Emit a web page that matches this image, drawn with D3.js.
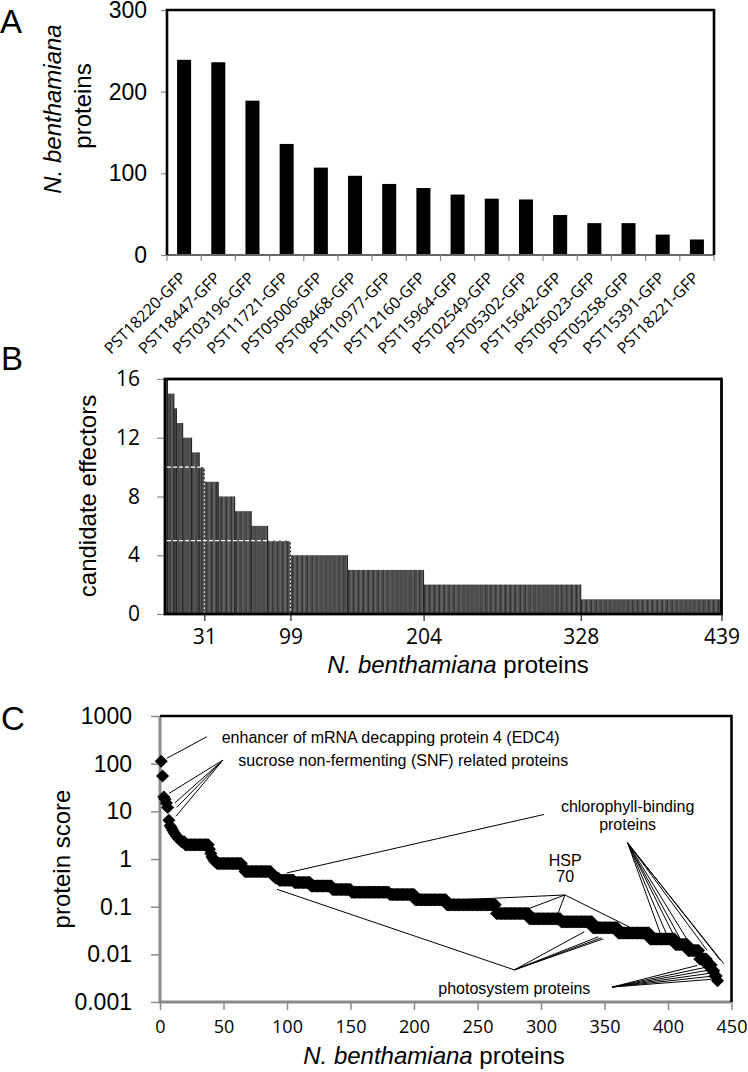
<!DOCTYPE html>
<html><head><meta charset="utf-8">
<script src="https://cdn.jsdelivr.net/npm/d3@7"></script>
<style>
body{margin:0;background:#fff}
svg{display:block}
text{font-family:"Liberation Sans",Arial,sans-serif;fill:#000}
</style>
</head><body>
<svg id="chart" width="748" height="1072"></svg>
<script>
// ---------- Panel A data ----------
const categoriesA = ["PST18220-GFP","PST18447-GFP","PST03196-GFP","PST11721-GFP","PST05006-GFP","PST08468-GFP","PST10977-GFP","PST12160-GFP","PST15964-GFP","PST02549-GFP","PST05302-GFP","PST15642-GFP","PST05023-GFP","PST05258-GFP","PST15391-GFP","PST18221-GFP"];
const valuesA = [239,236,189,136,107,97,87,82,74,69,68,49,39,39,25,19];
const ticksA = [0,100,200,300];

// ---------- Panel B data (effector count per protein, run-length) ----------
const effectorLevelsB = [16,15,14,13,12,11,10,9,8,7,6,5,4,3,2,1];
const proteinCountsB  = [2,5,2,5,7,6,4,11,13,13,13,18,45,60,124,111];
const tickRanksB = [31,99,204,328,439];
const ticksYB = [0,4,8,12,16];
const guideLevelsB = [10,5];
const guideRanksB = [31,99];

// ---------- Panel C data (protein score, run-length) ----------
const scoreValuesC = [113,55,20,18,15,12,6.5,5,4.5,4,3.6,3.3,3,2.8,2.6,2.5,2.3,2.0,1.6,1.3,1.1,1.0,0.9,0.8,0.7,0.65,0.55,0.5,0.45,0.4,0.36,0.32,0.27,0.23,0.2,0.18,0.14,0.11,0.072,0.056,0.048,0.036,0.028,0.021,0.016,0.012,0.008,0.006,0.0045,0.0035,0.0028];
const scoreCountsC = [1,1,1,1,1,1,1,1,1,1,1,1,1,1,1,1,3,19,1,1,1,1,2,20,1,1,21,1,2,3,12,13,17,15,30,20,25,39,26,25,25,20,25,20,10,9,6,4,2,2,1];
const ticksYC = [0.001,0.01,0.1,1,10,100,1000];
const ticksXC = [0,50,100,150,200,250,300,350,400,450];

// annotations in data units [rank, score]
const edcLine = [[36.8,367],[5.3,129]];
const snfOrigin = [49.6,119];
const snfTargets = [[7.1,23.8],[11.8,15.1],[13.2,12.1],[12.6,7.9]];
const chloroLong = [[302.4,8.6],[99.8,0.51]];
const chloroOrigin = [368.2,2.18];
const chloroTargets = [[394,0.0272],[399.8,0.0231],[405.8,0.0214],[410.3,0.0197],[416.3,0.0181],[430.8,0.0121],[441.3,0.00748],[443.9,0.00637]];
const hspOrigin = [318.8,0.176];
const hspTargets = [[232.7,0.138],[288.6,0.0873],[312.6,0.0628],[370.1,0.0369]];
const photoOrigin1 = [279,0.00472];
const photoTargets1 = [[92,0.232],[334.1,0.0297],[345.1,0.0233],[347.5,0.0222],[349.1,0.0212]];
const photoOrigin2 = [356.2,0.00206];
const photoTargets2 = [[423.2,0.00587],[429.5,0.00533],[431,0.00461],[432.6,0.00399],[433.4,0.00345],[434.2,0.00299]];
const annTexts = ["enhancer of mRNA decapping protein 4 (EDC4)","sucrose non-fermenting (SNF) related proteins","chlorophyll-binding","proteins","HSP","70","photosystem proteins"];
const annPos = [[48.6,272],[61.7,89],[368.2,9.8],[368.2,4.03],[319.1,0.72],[319.1,0.33],[279,0.0015]];
const annAnchor = ["start","start","middle","middle","middle","middle","middle"];
const annSize = [16,16,16,16,16,16,16];

const svg = d3.select("#chart");
svg.append("rect").attr("width",748).attr("height",1072).attr("fill","#fff");
const GRAY = "#8a8a8a";

function italicTitle(g, x, y, size){
  const t = g.append("text").attr("font-size",size).attr("text-anchor","middle").attr("x",x).attr("y",y);
  t.append("tspan").attr("font-style","italic").text("N. benthamiana");
  t.append("tspan").text(" proteins");
  return t;
}

// =================== PANEL A ===================
{
const xA = d3.scaleBand().domain(categoriesA).range([167,714]).padding(0);
const yA = d3.scaleLinear().domain([0,300]).range([255,10]);
const g = svg.append("g");
const bw = xA.bandwidth();
g.selectAll("rect.barA").data(valuesA).join("rect")
  .attr("x",(d,i)=>xA(categoriesA[i]) + bw*0.5 - bw*0.205)
  .attr("width",bw*0.41)
  .attr("y",d=>yA(d))
  .attr("height",d=>yA(0)-yA(d))
  .attr("fill","#000");
g.append("line").attr("x1",167).attr("x2",714).attr("y1",yA(0)).attr("y2",yA(0)).attr("stroke","#666").attr("stroke-width",2);
const bounds = categoriesA.map(c=>xA(c)).concat([xA.range()[1]]);
g.selectAll("line.tA").data(bounds).join("line")
  .attr("x1",d=>d).attr("x2",d=>d).attr("y1",yA(0)).attr("y2",yA(0)+6)
  .attr("stroke",GRAY).attr("stroke-width",1.2);
const ay = d3.axisLeft(yA).tickValues(ticksA).tickSize(6).tickPadding(14);
const gy = g.append("g").attr("transform","translate(167,0)").call(ay);
gy.select(".domain").remove();
gy.selectAll(".tick line").attr("stroke",GRAY).attr("stroke-width",1.2);
gy.selectAll(".tick text").attr("font-size",23).attr("font-family","Liberation Sans, Arial, sans-serif").attr("fill","#000");
g.append("path").attr("d",`M167,${yA(0)}V${yA(300)}H714V${yA(0)}`).attr("fill","none").attr("stroke","#000").attr("stroke-width",2.6);
g.selectAll("text.labA").data(categoriesA).join("text")
  .attr("transform",c=>`translate(${xA(c)+bw/2+3},279) rotate(-45)`)
  .attr("text-anchor","end")
  .attr("font-size",16)
  .style("font-family","'Open Sans', sans-serif")
  .text(c=>c);
g.append("text").attr("transform","translate(53,109) rotate(-90)").attr("text-anchor","middle").attr("dy","0.35em").attr("font-size",24).attr("font-style","italic").text("N. benthamiana");
g.append("text").attr("transform","translate(83,106) rotate(-90)").attr("text-anchor","middle").attr("dy","0.35em").attr("font-size",24).text("proteins");
g.append("text").attr("x",0).attr("y",33).attr("font-size",33).text("A");
}

// =================== PANEL B ===================
{
const xB = d3.scaleLinear().domain([0,439]).range([165,721.5]);
const yB = d3.scaleLinear().domain([0,16]).range([614,379]);
const proteinsB = [];
effectorLevelsB.forEach((lev,k)=>{ for(let j=0;j<proteinCountsB[k];j++) proteinsB.push(lev); });
const g = svg.append("g");
g.selectAll("rect.barB").data(proteinsB).join("rect")
  .attr("x",(d,i)=>xB(i))
  .attr("width",(d,i)=>xB(i+1)-xB(i)+0.25)
  .attr("y",d=>yB(d))
  .attr("height",d=>yB(0)-yB(d))
  .attr("fill",(d,i)=> (i%4===0)?"#333":"#4b4b4b");
let cum=0;
const stepEdges=[];
proteinCountsB.forEach((c,k)=>{cum+=c; if(k<proteinCountsB.length-1) stepEdges.push([cum, effectorLevelsB[k]]);});
g.selectAll("line.edge").data(stepEdges).join("line")
  .attr("x1",d=>xB(d[0])).attr("x2",d=>xB(d[0]))
  .attr("y1",d=>yB(d[1])).attr("y2",yB(0))
  .attr("stroke","#111").attr("stroke-width",0.8);
guideLevelsB.forEach((lev,k)=>{
  g.append("line").attr("x1",xB(0)+2).attr("x2",xB(guideRanksB[k])).attr("y1",yB(lev)).attr("y2",yB(lev))
    .attr("stroke","#fff").attr("stroke-width",1.3).attr("stroke-dasharray","4,2");
  g.append("line").attr("x1",xB(guideRanksB[k])).attr("x2",xB(guideRanksB[k])).attr("y1",yB(lev)).attr("y2",yB(0))
    .attr("stroke","#fff").attr("stroke-width",1.1).attr("stroke-dasharray","2,2");
});
const ay = d3.axisLeft(yB).tickValues(ticksYB).tickSize(8).tickPadding(17);
const gy = g.append("g").attr("transform","translate(165,0)").call(ay);
gy.select(".domain").remove();
gy.selectAll(".tick line").attr("stroke",GRAY).attr("stroke-width",1.2);
gy.selectAll(".tick text").attr("font-size",21).style("font-family","'Open Sans', sans-serif").attr("fill","#000");
const ax = d3.axisBottom(xB).tickValues(tickRanksB).tickSize(7).tickPadding(8).tickFormat(d=>String(d));
const gx = g.append("g").attr("transform",`translate(0,${yB(0)})`).call(ax);
gx.select(".domain").remove();
gx.selectAll(".tick line").attr("stroke","#222").attr("stroke-width",1.2);
gx.selectAll(".tick text").attr("font-size",21).style("font-family","'Open Sans', sans-serif").attr("fill","#000");
g.append("rect").attr("x",165).attr("y",yB(16)).attr("width",721.5-165).attr("height",yB(0)-yB(16))
  .attr("fill","none").attr("stroke","#000").attr("stroke-width",2.8);
italicTitle(g, 458, 673, 24);
g.append("text").attr("transform","translate(88,496) rotate(-90)").attr("text-anchor","middle").attr("dy","0.35em").attr("font-size",24).text("candidate effectors");
g.append("text").attr("x",1).attr("y",370).attr("font-size",33).text("B");
}

// =================== PANEL C ===================
{
const xC = d3.scaleLinear().domain([0,450]).range([160,731.5]);
const yC = d3.scaleLog().domain([0.001,1000]).range([1002,716]);
const pts = [];
scoreValuesC.forEach((v,k)=>{ for(let j=0;j<scoreCountsC[k];j++) pts.push(v); });
const g = svg.append("g");
const ay = d3.axisLeft(yC).tickValues(ticksYC).tickSize(9).tickPadding(19).tickFormat(d=>String(d));
const gy = g.append("g").attr("transform","translate(160,0)").call(ay);
gy.select(".domain").remove();
gy.selectAll(".tick line").attr("stroke",GRAY).attr("stroke-width",1.5);
gy.selectAll(".tick text").attr("font-size",23).attr("fill","#000");
const ax = d3.axisBottom(xC).tickValues(ticksXC).tickSize(8).tickPadding(10).tickFormat(d=>String(d));
const gx = g.append("g").attr("transform","translate(0,1002)").call(ax);
gx.select(".domain").remove();
gx.selectAll(".tick line").attr("stroke",GRAY).attr("stroke-width",1.5);
gx.selectAll(".tick text").attr("font-size",18).style("font-family","'Open Sans', sans-serif").attr("fill","#000");
g.append("line").attr("x1",160).attr("x2",160).attr("y1",716).attr("y2",1003).attr("stroke",GRAY).attr("stroke-width",3);
g.append("line").attr("x1",159).attr("x2",731.5).attr("y1",1002).attr("y2",1002).attr("stroke",GRAY).attr("stroke-width",3);
g.append("path").attr("d","M160,716H731.5V1002").attr("fill","none").attr("stroke","#000").attr("stroke-width",2.6);
const P = d=>[xC(d[0]),yC(d[1])];
const segs = [];
segs.push([edcLine[0],edcLine[1]]);
snfTargets.forEach(t=>segs.push([snfOrigin,t]));
segs.push([chloroLong[0],chloroLong[1]]);
chloroTargets.forEach(t=>segs.push([chloroOrigin,t]));
hspTargets.forEach(t=>segs.push([hspOrigin,t]));
photoTargets1.forEach(t=>segs.push([photoOrigin1,t]));
photoTargets2.forEach(t=>segs.push([photoOrigin2,t]));
g.selectAll("line.ann").data(segs).join("line")
  .attr("x1",d=>P(d[0])[0]).attr("y1",d=>P(d[0])[1])
  .attr("x2",d=>P(d[1])[0]).attr("y2",d=>P(d[1])[1])
  .attr("stroke","#000").attr("stroke-width",1);
g.selectAll("path.dm").data(pts).join("path")
  .attr("transform",(d,i)=>`translate(${xC(i+1)},${yC(d)})`)
  .attr("d","M0,-6.5L6.5,0L0,6.5L-6.5,0Z")
  .attr("fill","#000");
g.selectAll("text.ann").data(annTexts).join("text")
  .attr("x",(d,i)=>xC(annPos[i][0])).attr("y",(d,i)=>yC(annPos[i][1]))
  .attr("text-anchor",(d,i)=>annAnchor[i])
  .attr("font-size",(d,i)=>annSize[i])
  .text(d=>d);
g.append("text").attr("transform","translate(62,859) rotate(-90)").attr("text-anchor","middle").attr("dy","0.35em").attr("font-size",24).text("protein score");
italicTitle(g, 434, 1064, 24);
g.append("text").attr("x",1).attr("y",730).attr("font-size",33).text("C");
}
</script>
</body></html>
